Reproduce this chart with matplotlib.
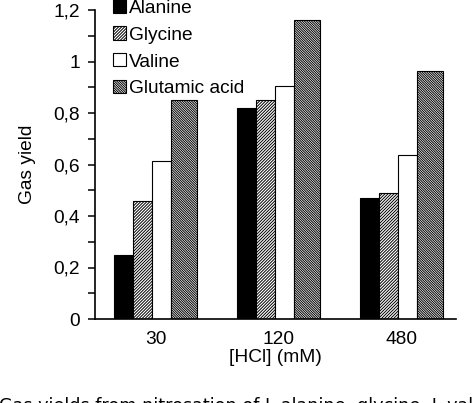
import matplotlib
matplotlib.use("Agg")
import matplotlib.pyplot as plt
import numpy as np
from matplotlib.patches import Patch

# data
groups = ["30", "120", "480"]
alanine = [0.25, 0.82, 0.47]
glycine = [0.46, 0.85, 0.49]
valine = [0.615, 0.905, 0.635]
glutamic = [0.85, 1.16, 0.965]
series_names = ["Alanine", "Glycine", "Valine", "Glutamic acid"]
yticks = [0, 0.2, 0.4, 0.6, 0.8, 1.0, 1.2]
ytick_labels = ["0", "0,2", "0,4", "0,6", "0,8", "1", "1,2"]

plt.rcParams["font.family"] = ["Liberation Sans", "DejaVu Sans"]
plt.rcParams["hatch.linewidth"] = 0.7

fig = plt.figure(figsize=(4.74, 4.03), dpi=100)
ax = fig.add_axes([95/474, 1-319/403, 361/474, 309/403])

x = np.arange(len(groups))
# bar left offsets and widths (glutamic bars drawn wider)
offs = [-0.337, -0.183, -0.028, 0.126]
widths = [0.154, 0.155, 0.154, 0.211]
faces = ["black", "white", "white", "white"]
hatches = [None, "/" * 11, None, "\\" * 14]
vals = [alanine, glycine, valine, glutamic]

for i in range(4):
    ax.bar(x + offs[i], vals[i], widths[i], align="edge", color=faces[i],
           edgecolor="black", linewidth=0.8, hatch=hatches[i])

ax.set_xlim(-0.492, 2.443)
ax.set_ylim(0, 1.2)
ax.set_xticks(x)
ax.set_xticklabels(groups)
ax.set_yticks(yticks)
ax.set_yticklabels(ytick_labels)
ax.set_yticks(np.arange(0.1, 1.2, 0.2), minor=True)
ax.tick_params(axis="x", length=0, pad=9, labelsize=13.8)
ax.tick_params(axis="y", which="both", length=5, width=1.1, direction="out", labelsize=13.8, pad=6)

for s in ["top", "right"]:
    ax.spines[s].set_visible(False)
for s in ["left", "bottom"]:
    ax.spines[s].set_linewidth(1.2)

ax.set_ylabel("Gas yield", fontsize=13.8, labelpad=12)
ax.set_xlabel("[HCl] (mM)", fontsize=13.8, labelpad=0)

handles = [Patch(facecolor=faces[i], edgecolor="black", linewidth=0.8, hatch=hatches[i])
           for i in range(4)]
ax.legend(handles, series_names, loc="upper left", bbox_to_anchor=(113/474, 1+0.5/403),
          bbox_transform=fig.transFigure, frameon=False, fontsize=13.8,
          handlelength=0.68, handleheight=0.68, handletextpad=0.15,
          labelspacing=0.5, borderpad=0, borderaxespad=0)

# caption cut off at the bottom edge
fig.text(-0.003, -0.019, "Gas yields from nitrosation of L-alanine, glycine, L-valine",
         fontsize=12.7, family="DejaVu Sans", va="baseline", ha="left")

fig.savefig("out.png", dpi=100)
